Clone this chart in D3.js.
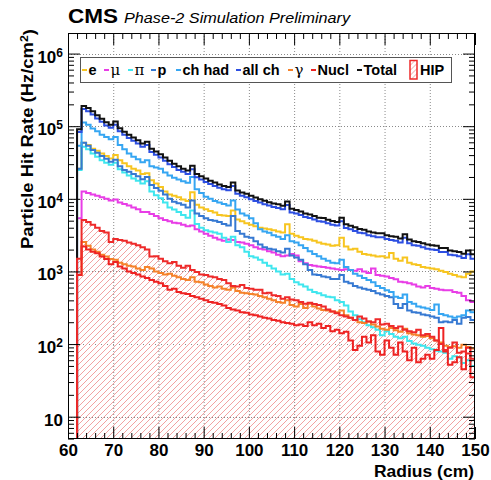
<!DOCTYPE html>
<html>
<head>
<meta charset="utf-8">
<script src="https://cdn.jsdelivr.net/npm/d3@7"></script>
<style>
  body { margin: 0; background: #fff; }
  svg { display: block; }
  text { font-family: "Liberation Sans", Arial, Helvetica, sans-serif; }
</style>
</head>
<body>
<svg id="chart" width="491" height="480"></svg>
<script>
// Radius binning: 1 cm bins, first bin starts at 62 cm, last bin ends at 150 cm
const binLow = 62;
const binWidth = 1;

// Particle hit rates (Hz/cm^2) per radius bin, 62..149 cm lower edges
const rateE = [
  2.6e4,5.9e4,5.5e4,4.9e4,4.6e4,4.2e4,3.9e4,3.6e4,4.0e4,3.4e4,
  3.1e4,2.8e4,2.6e4,2.45e4,2.2e4,2.25e4,1.8e4,1.62e4,1.45e4,1.26e4,
  1.15e4,1.1e4,1.05e4,9.8e3,9.3e3,1.23e4,8.3e3,7.6e3,7.2e3,6.8e3,
  6.5e3,6.0e3,5.9e3,5.8e3,6.9e3,5.2e3,4.9e3,4.6e3,4.4e3,4.2e3,
  4.0e3,3.9e3,3.8e3,3.7e3,3.55e3,3.45e3,4.45e3,3.3e3,3.1e3,2.95e3,
  2.8e3,2.75e3,2.65e3,2.5e3,2.4e3,2.35e3,2.25e3,2.3e3,2.9e3,2.2e3,
  2.0e3,2.05e3,1.86e3,1.74e3,1.7e3,1.66e3,1.6e3,1.62e3,1.55e3,1.8e3,
  1.5e3,1.4e3,1.55e3,1.32e3,1.26e3,1.23e3,1.15e3,1.12e3,1.1e3,1.07e3,
  1.02e3,9.8e2,9.3e2,8.9e2,8.5e2,8.3e2,9.3e2,1.0e3
];
const rateMu = [
  5.4e3,1.26e4,1.2e4,1.15e4,1.1e4,1.05e4,1.0e4,9.5e3,9.8e3,8.9e3,
  8.5e3,8.1e3,7.6e3,7.2e3,6.6e3,6.6e3,6.2e3,5.8e3,5.4e3,5.1e3,
  4.9e3,4.7e3,4.6e3,4.4e3,4.2e3,4.3e3,3.8e3,3.55e3,3.3e3,3.1e3,
  2.9e3,2.75e3,2.65e3,2.75e3,2.7e3,2.55e3,2.5e3,2.4e3,2.3e3,2.15e3,
  2.05e3,2.0e3,1.9e3,1.82e3,1.7e3,1.62e3,1.66e3,1.74e3,1.66e3,1.38e3,
  1.3e3,1.23e3,1.2e3,1.17e3,1.15e3,1.12e3,1.1e3,1.07e3,1.05e3,1.07e3,
  1.05e3,1.02e3,1.07e3,1.0e3,9.5e2,1.1e3,8.9e2,8.7e2,8.5e2,8.1e2,
  7.8e2,7.2e2,7.1e2,6.9e2,6.6e2,6.2e2,6.0e2,6.3e2,5.9e2,5.8e2,
  5.6e2,5.5e2,5.5e2,5.2e2,5.1e2,4.6e2,4.0e2,3.8e2
];
const ratePi = [
  2.5e4,5.2e4,4.8e4,4.2e4,3.8e4,3.4e4,3.15e4,2.95e4,3.15e4,2.55e4,
  2.3e4,2.1e4,1.9e4,1.78e4,1.62e4,1.74e4,1.26e4,1.12e4,1.02e4,8.9e3,
  7.6e3,7.1e3,6.6e3,6.0e3,5.5e3,6.9e3,4.5e3,4.0e3,3.7e3,3.55e3,
  3.45e3,3.3e3,2.9e3,2.55e3,3.0e3,2.3e3,2.15e3,1.86e3,1.62e3,1.55e3,
  1.45e3,1.32e3,1.2e3,1.1e3,1.0e3,9.1e2,9.3e2,7.9e2,7.1e2,6.6e2,
  6.2e2,5.6e2,5.2e2,5.0e2,4.7e2,4.5e2,4.4e2,4.0e2,3.8e2,3.4e2,
  2.8e2,2.5e2,2.2e2,2.0e2,1.82e2,1.7e2,1.58e2,1.32e2,1.5e2,1.38e2,
  1.26e2,1.2e2,1.26e2,1.1e2,1.02e2,9.8e1,9.5e1,8.9e1,8.5e1,8.1e1,
  7.9e1,7.6e1,6.3e1,6.8e1,6.6e1,5.5e1,6.0e1,5.0e1
];
const rateP = [
  2.6e4,5.9e4,5.4e4,4.7e4,4.3e4,3.9e4,3.55e4,3.25e4,3.45e4,2.8e4,
  2.5e4,2.35e4,2.2e4,2.05e4,1.86e4,2.0e4,1.55e4,1.41e4,1.29e4,1.15e4,
  1.0e4,9.1e3,8.7e3,8.3e3,7.6e3,9.5e3,6.3e3,5.8e3,5.4e3,5.1e3,
  5.0e3,4.8e3,4.5e3,4.3e3,5.8e3,3.6e3,3.3e3,3.0e3,2.9e3,2.6e3,
  2.35e3,2.15e3,2.05e3,2.0e3,1.9e3,1.82e3,2.05e3,1.66e3,1.55e3,1.45e3,
  1.26e3,1.05e3,9.1e2,8.9e2,8.5e2,8.3e2,7.9e2,7.9e2,8.9e2,7.2e2,
  6.9e2,6.3e2,6.0e2,5.8e2,5.6e2,5.4e2,5.0e2,4.8e2,4.6e2,4.4e2,
  3.55e2,3.15e2,3.55e2,2.9e2,2.75e2,2.7e2,2.55e2,2.5e2,2.4e2,2.3e2,
  2.0e2,2.05e2,2.0e2,2.15e2,1.9e2,2.3e2,2.35e2,2.15e2
];
const rateChHad = [
  5.4e4,1.12e5,1.05e5,9.3e4,8.5e4,7.6e4,7.1e4,6.6e4,7.1e4,5.5e4,
  4.8e4,4.2e4,3.8e4,3.5e4,3.2e4,3.4e4,2.8e4,2.7e4,2.6e4,2.3e4,
  2.1e4,1.95e4,1.85e4,1.74e4,1.66e4,2.0e4,1.35e4,1.2e4,1.07e4,1.0e4,
  9.3e3,8.9e3,8.5e3,8.1e3,9.5e3,7.1e3,6.3e3,5.9e3,5.4e3,4.6e3,
  3.8e3,3.55e3,3.4e3,3.15e3,3.0e3,2.8e3,3.15e3,2.6e3,2.5e3,2.3e3,
  2.1e3,1.9e3,1.74e3,1.62e3,1.5e3,1.4e3,1.32e3,1.3e3,1.45e3,1.15e3,
  1.05e3,9.3e2,8.7e2,8.1e2,7.6e2,7.1e2,6.3e2,5.9e2,5.5e2,5.2e2,
  4.5e2,4.3e2,4.8e2,3.8e2,3.6e2,3.3e2,3.2e2,3.1e2,2.95e2,3.5e2,
  2.6e2,2.5e2,2.4e2,2.3e2,2.4e2,2.5e2,2.9e2,2.75e2
];
const rateAllCh = [
  8.3e4,1.72e5,1.6e5,1.45e5,1.28e5,1.15e5,1.02e5,9.5e4,1.05e5,8.5e4,
  7.6e4,6.9e4,6.3e4,5.8e4,5.2e4,5.5e4,4.4e4,4.05e4,3.7e4,3.35e4,
  3.0e4,2.75e4,2.5e4,2.35e4,2.2e4,2.55e4,1.98e4,1.85e4,1.7e4,1.6e4,
  1.5e4,1.42e4,1.35e4,1.31e4,1.5e4,1.17e4,1.1e4,1.05e4,9.9e3,9.3e3,
  8.9e3,8.4e3,8.1e3,7.7e3,7.5e3,7.2e3,8.2e3,6.5e3,6.3e3,6.0e3,
  5.6e3,5.45e3,5.2e3,4.9e3,4.85e3,4.6e3,4.4e3,4.3e3,4.9e3,3.95e3,
  3.8e3,3.6e3,3.4e3,3.35e3,3.15e3,3.05e3,2.95e3,2.95e3,2.8e3,2.7e3,
  2.65e3,2.5e3,2.9e3,2.45e3,2.3e3,2.25e3,2.15e3,2.05e3,2.0e3,1.98e3,
  1.85e3,1.85e3,1.7e3,1.67e3,1.62e3,1.53e3,1.72e3,1.5e3
];
const rateGamma = [
  8.9e2,2.55e3,2.25e3,2.0e3,1.86e3,1.7e3,1.6e3,1.48e3,1.45e3,1.32e3,
  1.26e3,1.2e3,1.17e3,1.1e3,1.05e3,1.15e3,1.1e3,1.0e3,9.5e2,9.1e2,
  9.3e2,8.7e2,8.3e2,7.9e2,7.6e2,8.3e2,7.2e2,7.1e2,6.6e2,6.3e2,
  6.0e2,6.2e2,5.8e2,5.6e2,6.0e2,5.4e2,5.1e2,5.0e2,4.9e2,4.8e2,
  4.6e2,4.4e2,4.2e2,4.0e2,3.8e2,3.7e2,4.0e2,3.45e2,3.3e2,3.55e2,
  3.15e2,3.6e2,3.3e2,3.1e2,2.95e2,2.9e2,2.8e2,2.75e2,2.9e2,2.5e2,
  2.3e2,2.15e2,2.0e2,1.95e2,2.05e2,1.86e2,1.74e2,1.62e2,1.58e2,1.66e2,
  1.55e2,1.48e2,1.62e2,1.41e2,1.35e2,1.32e2,1.26e2,1.29e2,1.2e2,1.12e2,
  1.05e2,9.5e1,9.1e1,9.3e1,8.9e1,9.8e1,9.1e1,8.7e1
];
const rateNucl = [
  8.9e2,2.2e3,2.0e3,1.86e3,1.78e3,1.6e3,1.48e3,1.26e3,1.35e3,1.17e3,
  1.1e3,1.0e3,9.5e2,9.1e2,8.5e2,8.1e2,7.6e2,7.2e2,6.9e2,6.3e2,
  5.6e2,5.8e2,5.2e2,5.0e2,4.9e2,4.6e2,4.4e2,4.2e2,4.0e2,3.8e2,
  3.7e2,3.55e2,3.4e2,3.15e2,3.0e2,2.9e2,2.75e2,2.7e2,2.55e2,2.5e2,
  2.4e2,2.3e2,2.25e2,2.15e2,2.1e2,2.0e2,1.95e2,1.9e2,1.82e2,1.86e2,
  1.78e2,2.0e2,1.82e2,1.9e2,1.66e2,1.78e2,1.5e2,1.58e2,1.41e2,1.48e2,
  1.12e2,8.3e1,9.5e1,1.26e2,1.05e2,1.32e2,7.9e1,7.1e1,1.12e2,8.9e1,
  7.1e1,1.05e2,7.9e1,6.0e1,8.9e1,5.6e1,6.3e1,7.1e1,6.3e1,8.3e1,
  1.66e2,7.9e1,5.2e1,5.6e1,6.6e1,4.5e1,8.9e1,3.5e1
];
const rateTotal = [
  9.1e4,1.9e5,1.78e5,1.6e5,1.42e5,1.27e5,1.13e5,1.05e5,1.16e5,9.4e4,
  8.4e4,7.6e4,7.0e4,6.4e4,5.8e4,6.1e4,4.9e4,4.5e4,4.1e4,3.7e4,
  3.35e4,3.05e4,2.8e4,2.6e4,2.45e4,2.85e4,2.2e4,2.05e4,1.9e4,1.78e4,
  1.68e4,1.58e4,1.5e4,1.46e4,1.68e4,1.3e4,1.22e4,1.17e4,1.1e4,1.04e4,
  9.9e3,9.4e3,9.0e3,8.6e3,8.4e3,8.0e3,9.2e3,7.3e3,7.0e3,6.7e3,
  6.3e3,6.1e3,5.8e3,5.5e3,5.45e3,5.15e3,4.95e3,4.8e3,5.5e3,4.45e3,
  4.25e3,4.05e3,3.85e3,3.75e3,3.55e3,3.45e3,3.35e3,3.35e3,3.15e3,3.05e3,
  3.0e3,2.85e3,3.25e3,2.75e3,2.6e3,2.55e3,2.45e3,2.35e3,2.3e3,2.25e3,
  2.1e3,2.1e3,1.95e3,1.9e3,1.85e3,1.75e3,1.95e3,1.72e3
];
const rateHIP = [
  1.5e3,5.1e3,4.8e3,4.4e3,4.0e3,3.6e3,3.45e3,2.55e3,2.8e3,2.7e3,
  2.65e3,2.5e3,2.4e3,2.3e3,2.15e3,2.0e3,1.6e3,1.62e3,1.5e3,1.38e3,
  1.3e3,1.35e3,1.2e3,1.12e3,1.2e3,1.05e3,9.8e2,9.1e2,8.9e2,8.5e2,
  8.3e2,7.9e2,7.6e2,6.9e2,6.3e2,6.2e2,6.5e2,5.9e2,5.8e2,5.6e2,
  5.6e2,5.0e2,5.1e2,4.7e2,4.6e2,4.2e2,4.4e2,4.1e2,4.0e2,3.8e2,
  3.6e2,3.7e2,3.55e2,3.45e2,3.3e2,3.0e2,2.8e2,2.65e2,2.5e2,2.4e2,
  2.3e2,2.15e2,2.4e2,2.25e2,2.05e2,2.0e2,2.2e2,1.86e2,1.9e2,1.78e2,
  1.66e2,1.74e2,1.58e2,1.5e2,1.45e2,1.58e2,1.32e2,1.38e2,1.26e2,1.12e2,
  1.0e2,8.3e1,8.9e1,1.05e2,7.6e1,7.9e1,7.4e1,6.3e1
];

// Axis ticks
const xMajorTicks = [60, 70, 80, 90, 100, 110, 120, 130, 140, 150];
const yDecades = [1e1, 1e2, 1e3, 1e4, 1e5, 1e6];

// Line series in drawing order
const lineSeries = [
  { name: "e",      values: rateE,     color: "#f7c520", greek: false },
  { name: "\u03bc", values: rateMu,    color: "#e83de6", greek: true },
  { name: "\u03c0", values: ratePi,    color: "#3fe6ee", greek: true },
  { name: "p",      values: rateP,     color: "#3679d2", greek: false },
  { name: "ch had", values: rateChHad, color: "#36a6f2", greek: false },
  { name: "all ch", values: rateAllCh, color: "#2d4fe2", greek: false },
  { name: "\u03b3", values: rateGamma, color: "#f5822a", greek: true },
  { name: "Nucl",   values: rateNucl,  color: "#ee2222", greek: false },
  { name: "Total",  values: rateTotal, color: "#111111", greek: false }
];
const hipColor = "#ee2a2a";
const hatchColor = "#f2a2a2";

// ---------------------------------------------------------------
const svg = d3.select("#chart");
const W = 491, H = 480;
const plot = { left: 68, right: 475, top: 33, bottom: 439 };

const x = d3.scaleLinear().domain([60, 150]).range([plot.left, plot.right]);
const y = d3.scaleLog().domain([4.93, 1.92e6]).range([plot.bottom, plot.top]);
const yMin = y.domain()[0];

svg.append("rect").attr("width", W).attr("height", H).attr("fill", "#fff");

const defs = svg.append("defs");
defs.append("clipPath").attr("id", "plotClip")
  .append("rect")
  .attr("x", plot.left).attr("y", plot.top)
  .attr("width", plot.right - plot.left).attr("height", plot.bottom - plot.top);

// Draws "/" hatching inside the box [x0,x1]x[y0,y1], spacing in px
function hatchLines(g, x0, x1, y0, y1, spacing) {
  const h = y1 - y0;
  const starts = d3.range(x0 - h, x1 + spacing, spacing);
  g.selectAll("line.hatch").data(starts).join("line")
    .attr("class", "hatch")
    .attr("x1", d => d).attr("y1", y1)
    .attr("x2", d => d + h).attr("y2", y0)
    .attr("stroke", hatchColor).attr("stroke-width", 1);
}

// Grid lines (dotted) at the major ticks
const grid = svg.append("g").attr("stroke", "#8a8a8a").attr("stroke-width", 1)
  .attr("stroke-dasharray", "1,2");
grid.selectAll("line.gx").data(xMajorTicks.slice(1, -1)).join("line")
  .attr("x1", d => x(d) + 0.5).attr("x2", d => x(d) + 0.5)
  .attr("y1", plot.top).attr("y2", plot.bottom);
grid.selectAll("line.gy").data(yDecades).join("line")
  .attr("x1", plot.left).attr("x2", plot.right)
  .attr("y1", d => Math.round(y(d)) + 0.5).attr("y2", d => Math.round(y(d)) + 0.5);

// Histogram points: start from the bottom of the axis, then step through every bin
function histPoints(values) {
  const pts = [{ r: binLow, v: yMin }];
  values.forEach((v, i) => pts.push({ r: binLow + i * binWidth, v }));
  pts.push({ r: binLow + values.length * binWidth, v: values[values.length - 1] });
  return pts;
}
const stepLine = d3.line().curve(d3.curveStepAfter).x(d => x(d.r)).y(d => y(d.v));
const stepArea = d3.area().curve(d3.curveStepAfter)
  .x(d => x(d.r)).y0(y(yMin)).y1(d => y(d.v));

const plotG = svg.append("g").attr("clip-path", "url(#plotClip)");

// HIP hatched area: hatching clipped to the HIP histogram shape
const hipPts = histPoints(rateHIP).slice(1);
defs.append("clipPath").attr("id", "hipClip")
  .append("path").attr("d", stepArea(hipPts));
const hipHatch = plotG.append("g").attr("clip-path", "url(#hipClip)");
hatchLines(hipHatch, plot.left, plot.right, plot.top, plot.bottom, 6);

// Line histograms
lineSeries.forEach(s => {
  plotG.append("path")
    .attr("d", stepLine(histPoints(s.values)))
    .attr("fill", "none").attr("stroke", s.color)
    .attr("stroke-width", 2).attr("stroke-linejoin", "miter");
});
// HIP outline
plotG.append("path")
  .attr("d", stepLine(histPoints(rateHIP)))
  .attr("fill", "none").attr("stroke", hipColor).attr("stroke-width", 2);

// ---------------------------------------------------------------
// Axes: inward ticks on all four sides
const xMinor = d3.range(60, 151, 2).filter(d => d % 10 !== 0);
const yMinor = [];
[1, 10, 100, 1e3, 1e4, 1e5, 1e6].forEach(b => {
  for (let k = 2; k <= 9; k++) {
    const v = k * b;
    if (v >= y.domain()[0] && v <= y.domain()[1]) yMinor.push(v);
  }
});

function styleAxis(g) {
  g.select(".domain").remove();
  g.selectAll(".tick line").attr("stroke", "#000").attr("stroke-width", 1);
}

const axisFont = "bold 17px 'Liberation Sans', Arial, sans-serif";

// bottom
svg.append("g").attr("transform", `translate(0,${plot.bottom})`)
  .call(d3.axisBottom(x).tickValues(xMajorTicks).tickSize(-12).tickPadding(5)
    .tickFormat(d3.format("d")))
  .call(styleAxis)
  .call(g => g.selectAll(".tick text").attr("fill", "#000")
    .style("font", axisFont));
svg.append("g").attr("transform", `translate(0,${plot.bottom})`)
  .call(d3.axisBottom(x).tickValues(xMinor).tickSize(-6).tickFormat(""))
  .call(styleAxis);
// top
svg.append("g").attr("transform", `translate(0,${plot.top})`)
  .call(d3.axisTop(x).tickValues(xMajorTicks).tickSize(-12).tickFormat(""))
  .call(styleAxis);
svg.append("g").attr("transform", `translate(0,${plot.top})`)
  .call(d3.axisTop(x).tickValues(xMinor).tickSize(-6).tickFormat(""))
  .call(styleAxis);
// left
svg.append("g").attr("transform", `translate(${plot.left},0)`)
  .call(d3.axisLeft(y).tickValues(yDecades).tickSize(-12).tickPadding(5)
    .tickFormat(() => ""))
  .call(styleAxis)
  .call(g => {
    g.selectAll(".tick text").each(function (d) {
      const t = d3.select(this).attr("fill", "#000").attr("dy", "0.5em")
        .style("font", axisFont);
      const exp = Math.round(Math.log10(d));
      t.append("tspan").text("10");
      if (exp !== 1) {
        t.append("tspan").attr("dy", "-0.5em").style("font-size", "12px").text(exp);
      }
    });
  });
svg.append("g").attr("transform", `translate(${plot.left},0)`)
  .call(d3.axisLeft(y).tickValues(yMinor).tickSize(-6).tickFormat(""))
  .call(styleAxis);
// right
svg.append("g").attr("transform", `translate(${plot.right},0)`)
  .call(d3.axisRight(y).tickValues(yDecades).tickSize(-12).tickFormat(""))
  .call(styleAxis);
svg.append("g").attr("transform", `translate(${plot.right},0)`)
  .call(d3.axisRight(y).tickValues(yMinor).tickSize(-6).tickFormat(""))
  .call(styleAxis);

// Frame
svg.append("rect")
  .attr("x", plot.left + 0.5).attr("y", plot.top + 0.5)
  .attr("width", plot.right - plot.left - 1).attr("height", plot.bottom - plot.top - 1)
  .attr("fill", "none").attr("stroke", "#000").attr("stroke-width", 1);

// Axis titles
svg.append("text")
  .attr("x", plot.right - 1).attr("y", 477).attr("text-anchor", "end")
  .attr("textLength", 100).attr("lengthAdjust", "spacingAndGlyphs")
  .style("font", "bold 16.5px 'Liberation Sans', Arial, sans-serif")
  .text("Radius (cm)");

const yTitle = svg.append("text")
  .attr("transform", `translate(33,29) rotate(-90)`)
  .attr("text-anchor", "end")
  .attr("textLength", 220).attr("lengthAdjust", "spacingAndGlyphs")
  .style("font", "bold 16.5px 'Liberation Sans', Arial, sans-serif");
yTitle.append("tspan").text("Particle Hit Rate (Hz/cm");
yTitle.append("tspan").attr("dy", "-0.45em").style("font-size", "11px").text("2");
yTitle.append("tspan").attr("dy", "0.45em").text(")");

// Header
svg.append("text").attr("x", 68).attr("y", 23)
  .attr("textLength", 50).attr("lengthAdjust", "spacingAndGlyphs")
  .style("font", "bold 21px 'Liberation Sans', Arial, sans-serif").text("CMS");
svg.append("text").attr("x", 124).attr("y", 23)
  .attr("textLength", 226).attr("lengthAdjust", "spacingAndGlyphs")
  .style("font", "italic 15.5px 'Liberation Sans', Arial, sans-serif")
  .text("Phase-2 Simulation Preliminary");

// ---------------------------------------------------------------
// Legend
const legend = svg.append("g");
legend.append("rect")
  .attr("x", 80.5).attr("y", 57.5).attr("width", 371).attr("height", 25)
  .attr("fill", "#fff").attr("stroke", "#555").attr("stroke-width", 1);

const legendX = [82, 104, 128, 151, 176, 236, 288, 311, 357];
const legendMidY = 70, legendBaseY = 75;
lineSeries.forEach((s, i) => {
  const lx = legendX[i];
  legend.append("line")
    .attr("x1", lx).attr("x2", lx + 5).attr("y1", legendMidY).attr("y2", legendMidY)
    .attr("stroke", s.color).attr("stroke-width", 2);
  legend.append("text")
    .attr("x", lx + 6.5).attr("y", legendBaseY)
    .style("font", s.greek
      ? "15px 'DejaVu Serif', 'Liberation Serif', serif"
      : "bold 14.5px 'Liberation Sans', Arial, sans-serif")
    .attr("fill", "#000")
    .text(s.name);
});
// HIP entry: small hatched box
const hipBox = { x: 410, y: 60.5, w: 7, h: 18.5 };
defs.append("clipPath").attr("id", "hipBoxClip")
  .append("rect").attr("x", hipBox.x).attr("y", hipBox.y)
  .attr("width", hipBox.w).attr("height", hipBox.h);
const boxHatch = legend.append("g").attr("clip-path", "url(#hipBoxClip)");
hatchLines(boxHatch, hipBox.x, hipBox.x + hipBox.w, hipBox.y, hipBox.y + hipBox.h, 5);
legend.append("rect")
  .attr("x", hipBox.x).attr("y", hipBox.y).attr("width", hipBox.w).attr("height", hipBox.h)
  .attr("fill", "none").attr("stroke", hipColor).attr("stroke-width", 1.5);
legend.append("text")
  .attr("x", 420).attr("y", legendBaseY)
  .style("font", "bold 14.5px 'Liberation Sans', Arial, sans-serif")
  .text("HIP");
</script>
</body>
</html>
